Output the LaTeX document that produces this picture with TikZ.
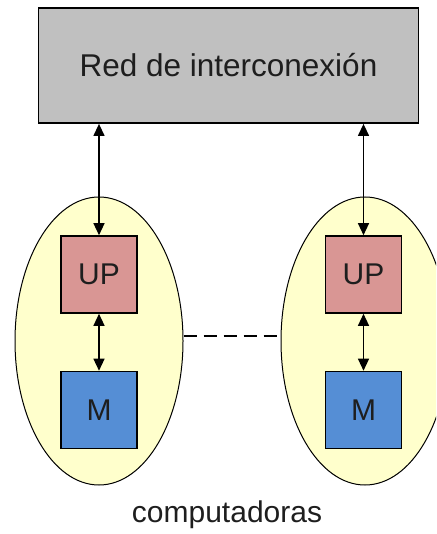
\documentclass[tikz,border=0pt]{standalone}
\usepackage{fontspec}
\setmainfont{Liberation Sans}
\usetikzlibrary{shapes.geometric,arrows.meta}
\definecolor{netgray}{HTML}{C0C0C0}
\definecolor{upred}{HTML}{D99694}
\definecolor{memblue}{HTML}{558ED5}
\definecolor{nodeyellow}{HTML}{FFFFCC}
\definecolor{ink}{HTML}{1E1E1E}
\tikzset{
  lbl/.style={font=\fontsize{30}{36}\selectfont, text=ink},
  netbox/.style={draw=black, line width=1.8pt, fill=netgray, minimum width=380pt, minimum height=115pt, inner sep=0pt, lbl, font=\fontsize{31.5}{37}\selectfont},
  unitbox/.style={draw=black, line width=1.6pt, minimum width=76pt, minimum height=77pt, inner sep=0pt, lbl},
  upbox/.style={unitbox, fill=upred},
  membox/.style={unitbox, fill=memblue},
  compnode/.style={ellipse, draw=black, line width=1pt, fill=nodeyellow, minimum width=168pt, minimum height=288pt, inner sep=0pt},
  link/.style={line width=1.3pt, {Triangle[length=12pt,width=11pt]}-{Triangle[length=12pt,width=11pt]}},
  bridge/.style={line width=1.2pt, dash pattern=on 13pt off 7pt}
}
\begin{document}
\begin{tikzpicture}[x=1pt,y=-1pt]
  \path[use as bounding box] (0,0) rectangle (436,534);
  \begin{scope}
    \clip (0,0) rectangle (436,534);
    % the two computers
    \node[compnode] (c1) at (99,341) {};
    \node[compnode] (c2) at (365,341) {};
    % dashed link between them
    \draw[bridge] ([yshift=5pt]c1.east) -- ([yshift=5pt]c2.west);
    % interconnection network
    \node[netbox] (net) at (228.5,65.5) {Red de interconexión};
    % processors and memories
    \node[upbox] (up1) at (99,274.5) {UP};
    \node[membox] (m1) at (99,410) {M};
    \node[upbox] (up2) at (363.5,274.5) {UP};
    \node[membox] (m2) at (363.5,410) {M};
    % connectors
    \draw[link] (up1.north) -- (up1.north |- net.south);
    \draw[link] (up2.north) -- (up2.north |- net.south);
    \draw[link] (up1.south) -- (m1.north);
    \draw[link] (up2.south) -- (m2.north);
    % caption
    \node[lbl] (cap) at (227,515) {computadoras};
  \end{scope}
\end{tikzpicture}
\end{document}
